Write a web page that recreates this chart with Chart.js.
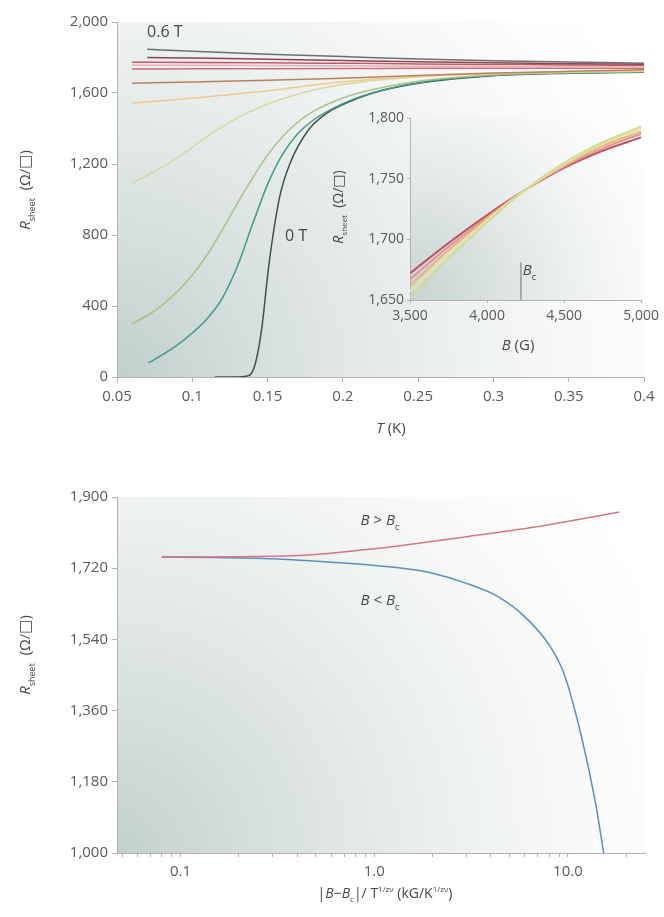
<!DOCTYPE html>
<html>
<head>
<meta charset="utf-8">
<script src="https://cdn.jsdelivr.net/npm/chart.js@4.4.1/dist/chart.umd.min.js"></script>
<style>
  html, body { margin: 0; padding: 0; background: #fff; }
  #wrap { position: relative; width: 664px; height: 917px; }
  canvas { position: absolute; }
  #main { left: 0; top: 0; width: 664px; height: 445px; }
  #inset { left: 330px; top: 100px; width: 334px; height: 265px; }
  #scaling { left: 0; top: 445px; width: 664px; height: 472px; }
</style>
</head>
<body>
<div id="wrap">
  <canvas id="main" width="664" height="445"></canvas>
  <canvas id="inset" width="334" height="265"></canvas>
  <canvas id="scaling" width="664" height="472"></canvas>
</div>
<script>
// ── R_sheet(T) isofield curves, 0.6 T (top) down to 0 T ────────────────
const tA = [0.07, 0.1, 0.15, 0.2, 0.25, 0.3, 0.35, 0.4];
const rA = [1847, 1835, 1818, 1805, 1792, 1782, 1774, 1768];      // 0.6 T
const tB = [0.07, 0.1, 0.15, 0.2, 0.25, 0.3, 0.35, 0.4];
const rB = [1800, 1797, 1790, 1783, 1776, 1770, 1765, 1762];
const tC = [0.06, 0.1, 0.15, 0.2, 0.25, 0.3, 0.35, 0.4];
const rC = [1773, 1772, 1770, 1767, 1764, 1761, 1758, 1756];
const rD = [1757, 1756, 1755, 1753, 1751, 1749, 1748, 1747];
const rE = [1735, 1736, 1737, 1738, 1739, 1740, 1740, 1740];
const rF = [1655, 1662, 1672, 1683, 1699, 1712, 1722, 1731];
const tG = [0.06, 0.08, 0.1, 0.12, 0.15, 0.2, 0.25, 0.3, 0.35, 0.4];
const rG = [1543, 1556, 1571, 1587, 1612, 1663, 1693, 1710, 1720, 1726];
const tH = [0.06, 0.07, 0.08, 0.09, 0.1, 0.11, 0.12, 0.13, 0.14, 0.15, 0.16, 0.18, 0.2, 0.25, 0.3, 0.35, 0.4];
const rH = [1092, 1135, 1182, 1236, 1295, 1356, 1410, 1460, 1502, 1538, 1568, 1615, 1648, 1692, 1710, 1718, 1723];
const tI = [0.06, 0.07, 0.08, 0.09, 0.1, 0.11, 0.12, 0.13, 0.14, 0.15, 0.16, 0.17, 0.18, 0.2, 0.22, 0.25, 0.3, 0.35, 0.4];
const rI = [300, 345, 405, 480, 575, 690, 830, 980, 1120, 1250, 1355, 1435, 1495, 1572, 1620, 1666, 1703, 1715, 1721];
const tJ = [0.071, 0.08, 0.09, 0.1, 0.11, 0.12, 0.13, 0.14, 0.15, 0.16, 0.17, 0.18, 0.2, 0.22, 0.25, 0.3, 0.35, 0.4];
const rJ = [79, 125, 180, 248, 330, 445, 625, 860, 1085, 1255, 1370, 1445, 1540, 1602, 1658, 1700, 1713, 1719];
const tK = [0.115, 0.13, 0.138, 0.142, 0.146, 0.151, 0.158, 0.165, 0.177, 0.19, 0.2, 0.22, 0.25, 0.3, 0.35, 0.4];
const rK = [0, 0, 10, 80, 265, 640, 1013, 1205, 1390, 1490, 1535, 1600, 1655, 1697, 1711, 1717];   // 0 T

const tTicks = [0.05, 0.1, 0.15, 0.2, 0.25, 0.3, 0.35, 0.4];
const tTickLabels = ['0.05', '0.1', '0.15', '0.2', '0.25', '0.3', '0.35', '0.4'];
const rTicks = [0, 400, 800, 1200, 1600, 2000];
const rTickLabels = ['0', '400', '800', '1,200', '1,600', '2,000'];

// ── inset: R_sheet(B) near the crossing point ──────────────────────────
const bField = [3500, 3750, 4000, 4250, 4500, 4750, 5000];
const insetR1 = [1652, 1684, 1714, 1741, 1763, 1780, 1793];
const insetR2 = [1657, 1688, 1716, 1741, 1762, 1779, 1791];
const insetR3 = [1662, 1691, 1717, 1741, 1761, 1777, 1789];
const insetR4 = [1667, 1694, 1718, 1741, 1760, 1775, 1787];
const insetR5 = [1672, 1697, 1720, 1741, 1759, 1773, 1784];
const bcField = 4220;
const bcMarkR = [1650, 1681];
const bTicks = [3500, 4000, 4500, 5000];
const bTickLabels = ['3,500', '4,000', '4,500', '5,000'];
const insetRTicks = [1650, 1700, 1750, 1800];
const insetRTickLabels = ['1,650', '1,700', '1,750', '1,800'];

// ── scaling collapse vs |B-Bc|/T^(1/zν) ───────────────────────────────
const aboveX = [0.08, 0.2, 0.4, 0.6, 1, 1.36, 2.94, 6.37, 11.5, 18.4];
const aboveR = [1748, 1749, 1752, 1758, 1769, 1777, 1799, 1822, 1844, 1862];
const belowX = [0.08, 0.15, 0.3, 0.6, 1, 1.5, 1.98, 2.94, 4.4, 6, 8, 9.6, 11.8, 13.9, 15.3];
const belowR = [1748, 1747, 1744, 1735, 1727, 1718, 1708, 1683, 1647, 1597, 1526, 1450, 1290, 1125, 1000];
const logTicks = [0.05, 0.06, 0.07, 0.08, 0.09, 0.1, 0.2, 0.3, 0.4, 0.5, 0.6, 0.7, 0.8, 0.9,
                  1, 2, 3, 4, 5, 6, 7, 8, 9, 10, 20];
const logLabelled = [0.1, 1, 10];
const logLabelText = ['0.1', '1.0', '10.0'];
const scaledRTicks = [1000, 1180, 1360, 1540, 1720, 1900];
const scaledRTickLabels = ['1,000', '1,180', '1,360', '1,540', '1,720', '1,900'];

// ── styling ────────────────────────────────────────────────────────────
const FONT = '"Open Sans", "DejaVu Sans", sans-serif';
const TICK_COLOR = '#5a5a5a';
const AXIS_COLOR = '#b2b2b2';
const TEXT_COLOR = '#474747';
const topColors = ['#6e6e6e', '#8d4650', '#c25a66', '#eab0b4', '#cf6e78', '#b9825e',
                   '#f2c98e', '#d5d9a0', '#a9c184', '#3e9c8a', '#41514f'];
const insetColors = ['#cfdc98', '#ece3a2', '#eab377', '#e2939b', '#c0505c'];

function fontOf(size, italic) {
  return (italic ? 'italic ' : '') + size + 'px ' + FONT;
}

// parts: [text, style] where style is '', 'i', 'sub' or 'sup'
function drawRich(ctx, it) {
  const size = it.size || 15;
  const runs = it.parts.map(([text, style]) => {
    const small = style === 'sub' || style === 'sup';
    return {
      text,
      font: fontOf(small ? Math.round(size * 0.6) : size, style === 'i'),
      dy: style === 'sub' ? size * 0.3 : style === 'sup' ? -size * 0.42 : 0,
    };
  });
  ctx.save();
  let total = 0;
  runs.forEach(r => { ctx.font = r.font; r.w = ctx.measureText(r.text).width; total += r.w; });
  ctx.translate(it.x, it.y);
  if (it.rotate) ctx.rotate(it.rotate);
  let x = it.align === 'left' ? 0 : it.align === 'right' ? -total : -total / 2;
  ctx.fillStyle = it.color || TEXT_COLOR;
  ctx.textBaseline = 'alphabetic';
  const base = size * 0.36;   // centre of the capitals lands on y
  runs.forEach(r => { ctx.font = r.font; ctx.fillText(r.text, x, base + r.dy); x += r.w; });
  ctx.restore();
}

// soft grey-teal wash from the lower-left corner of the plot area
const plotShade = {
  id: 'plotShade',
  beforeDraw(chart, args, opts) {
    const { ctx, chartArea: a } = chart;
    const rad = Math.hypot(a.width, a.height) * (opts.reach || 1);
    const g = ctx.createRadialGradient(a.left, a.bottom, 0, a.left, a.bottom, rad);
    g.addColorStop(0, opts.dark || '#c4d3d0');
    g.addColorStop(0.25, '#d7e0de');
    g.addColorStop(0.5, '#e9eeed');
    g.addColorStop(0.75, '#f7f9f8');
    g.addColorStop(1, '#ffffff');
    ctx.save();
    ctx.fillStyle = g;
    ctx.fillRect(a.left, a.top, a.width, a.height);
    ctx.restore();
  },
};

// axis titles and in-plot labels with italics and sub/superscripts
const richText = {
  id: 'richText',
  afterDraw(chart, args, opts) {
    const { ctx, scales } = chart;
    (opts.items || []).forEach(it => {
      const pos = it.data
        ? { x: scales.x.getPixelForValue(it.data[0]), y: scales.y.getPixelForValue(it.data[1]) }
        : { x: it.at[0], y: it.at[1] };
      drawRich(ctx, Object.assign({}, it, pos));
    });
  },
};

function line(xs, ys, color, width) {
  return {
    data: xs.map((x, i) => ({ x, y: ys[i] })),
    borderColor: color,
    borderWidth: width,
    pointRadius: 0,
    showLine: true,
    fill: false,
    cubicInterpolationMode: 'monotone',
  };
}

function axis(opts) {
  const size = opts.fontSize || 15;
  return {
    type: opts.type || 'linear',
    min: opts.min,
    max: opts.max,
    afterBuildTicks: s => { s.ticks = opts.values.map(v => ({ value: v })); },
    afterFit: s => { if (opts.width) s.width = opts.width; if (opts.height) s.height = opts.height; },
    ticks: {
      callback: opts.label,
      autoSkip: false,
      maxRotation: 0,
      padding: opts.padding,
      color: TICK_COLOR,
      font: { family: FONT, size },
    },
    grid: { drawOnChartArea: false, drawTicks: true, tickLength: opts.tick || 5, color: AXIS_COLOR },
    border: { display: true, color: AXIS_COLOR, width: 1 },
  };
}

const baseOptions = {
  responsive: false,
  animation: false,
  devicePixelRatio: 1,
};

const rsheetTitle = [['R', 'i'], ['sheet', 'sub'], ['  (Ω/□)', '']];

// ── main panel ─────────────────────────────────────────────────────────
const topCurves = [[tA, rA], [tB, rB], [tC, rC], [tC, rD], [tC, rE], [tC, rF],
                   [tG, rG], [tH, rH], [tI, rI], [tJ, rJ], [tK, rK]];

new Chart(document.getElementById('main'), {
  type: 'scatter',
  data: { datasets: topCurves.map((c, i) => line(c[0], c[1], topColors[i], 1.5)) },
  options: {
    ...baseOptions,
    layout: { padding: { left: 0, top: 22, right: 20, bottom: 0 } },
    plugins: {
      legend: { display: false },
      tooltip: { enabled: false },
      plotShade: { dark: '#c0d0cd', reach: 0.95 },
      richText: {
        items: [
          { at: [25, 190], parts: rsheetTitle, size: 15, rotate: -Math.PI / 2 },
          { at: [391, 428], parts: [['T', 'i'], [' (K)', '']], size: 15 },
          { data: [0.07, 1948], parts: [['0.6 T', '']], size: 16, align: 'left' },
          { data: [0.169, 800], parts: [['0 T', '']], size: 16 },
        ],
      },
    },
    scales: {
      x: axis({ min: 0.05, max: 0.4, values: tTicks, label: (v, i) => tTickLabels[i], height: 68, padding: 6 }),
      y: axis({ min: 0, max: 2000, values: rTicks, label: (v, i) => rTickLabels[i], width: 117, padding: 4 }),
    },
  },
  plugins: [plotShade, richText],
});

// ── inset ──────────────────────────────────────────────────────────────
const insetCurves = [insetR1, insetR2, insetR3, insetR4, insetR5];
const insetSets = insetCurves.map((r, i) => line(bField, r, insetColors[i], 2));
insetSets.push(line([bcField, bcField], bcMarkR, '#6f6f6f', 1));

new Chart(document.getElementById('inset'), {
  type: 'scatter',
  data: { datasets: insetSets },
  options: {
    ...baseOptions,
    layout: { padding: { left: 0, top: 18, right: 22, bottom: 0 } },
    plugins: {
      legend: { display: false },
      tooltip: { enabled: false },
      plotShade: { dark: '#c6d4d1', reach: 1 },
      richText: {
        items: [
          { at: [8, 107], parts: rsheetTitle, size: 14, rotate: -Math.PI / 2 },
          { at: [188, 245], parts: [['B', 'i'], [' (G)', '']], size: 15 },
          { data: [4232, 1675], parts: [['B', 'i'], ['c', 'sub']], size: 15, align: 'left' },
        ],
      },
    },
    scales: {
      x: axis({ min: 3500, max: 5000, values: bTicks, label: (v, i) => bTickLabels[i], height: 65, padding: 5, tick: 3, fontSize: 14 }),
      y: axis({ min: 1650, max: 1800, values: insetRTicks, label: (v, i) => insetRTickLabels[i], width: 80, padding: 3, tick: 3, fontSize: 14 }),
    },
  },
  plugins: [plotShade, richText],
});

// ── scaling panel ──────────────────────────────────────────────────────
new Chart(document.getElementById('scaling'), {
  type: 'scatter',
  data: {
    datasets: [
      line(aboveX, aboveR, '#d27785', 1.5),
      line(belowX, belowR, '#5b8fbf', 1.5),
    ],
  },
  options: {
    ...baseOptions,
    layout: { padding: { left: 0, top: 52, right: 19, bottom: 0 } },
    plugins: {
      legend: { display: false },
      tooltip: { enabled: false },
      plotShade: { dark: '#c2d1ce', reach: 0.95 },
      richText: {
        items: [
          { at: [25, 210], parts: rsheetTitle, size: 15, rotate: -Math.PI / 2 },
          { at: [385, 448], parts: [['|', ''], ['B', 'i'], ['−', ''], ['B', 'i'], ['c', 'sub'], ['|/ T', ''],
                                    ['1/zν', 'sup'], [' (kG/K', ''], ['1/zν', 'sup'], [')', '']], size: 14 },
          { data: [1.07, 1842], parts: [['B', 'i'], [' > ', ''], ['B', 'i'], ['c', 'sub']], size: 15 },
          { data: [1.07, 1640], parts: [['B', 'i'], [' < ', ''], ['B', 'i'], ['c', 'sub']], size: 15 },
        ],
      },
    },
    scales: {
      x: axis({
        type: 'logarithmic', min: 0.047, max: 25, values: logTicks,
        label: v => { const k = logLabelled.indexOf(v); return k < 0 ? '' : logLabelText[k]; },
        height: 64, padding: 6, tick: 4,
      }),
      y: axis({ min: 1000, max: 1900, values: scaledRTicks, label: (v, i) => scaledRTickLabels[i], width: 117, padding: 4 }),
    },
  },
  plugins: [plotShade, richText],
});
</script>
</body>
</html>
